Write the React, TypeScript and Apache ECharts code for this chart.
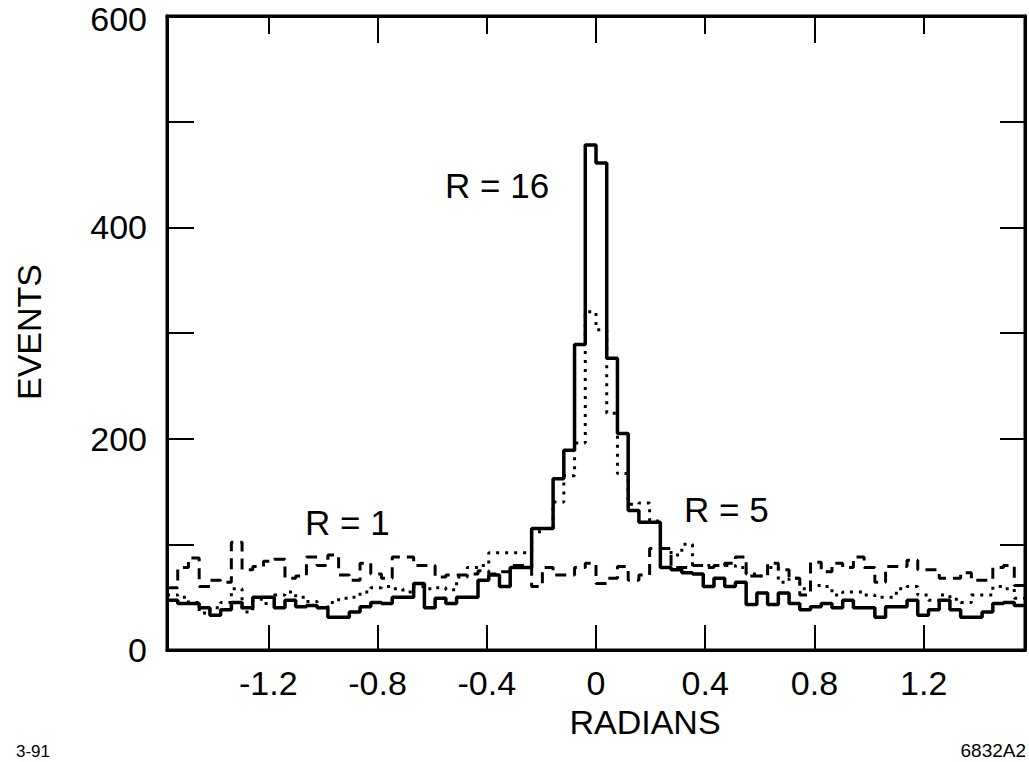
import React, { useEffect, useRef } from 'react';
import * as echarts from 'echarts';

// Histogram: 80 bins over [-pi/2, pi/2]
const X_MIN = -Math.PI / 2;
const X_MAX = Math.PI / 2;

const r16Values = [
  47, 44, 44, 40, 33, 38, 45, 40, 50, 50,
  40, 47, 41, 42, 40, 31, 31, 36, 41, 45,
  44, 50, 50, 63, 40, 49, 44, 50, 50, 66,
  71, 60, 78, 78, 115, 115, 162, 189, 289, 478,
  461, 276, 205, 132, 121, 121, 78, 76, 73, 72,
  60, 68, 60, 64, 43, 54, 43, 54, 44, 38,
  41, 44, 40, 47, 40, 40, 31, 41, 41, 47,
  33, 38, 47, 38, 31, 31, 36, 44, 45, 42,
];

const r5Values = [
  52, 50, 45, 35, 40, 45, 58, 36, 48, 44,
  52, 55, 50, 46, 40, 45, 49, 50, 55, 59,
  60, 58, 55, 60, 58, 59, 57, 69, 78, 80,
  92, 92, 92, 92, 112, 115, 140, 165, 196, 320,
  303, 224, 167, 138, 139, 122, 96, 90, 100, 80,
  80, 80, 80, 78, 72, 70, 78, 64, 68, 58,
  61, 60, 52, 55, 55, 52, 50, 50, 58, 60,
  52, 47, 52, 48, 45, 52, 52, 60, 58, 49,
];

const r1Values = [
  59, 78, 87, 60, 66, 64, 102, 76, 79, 84,
  86, 68, 70, 88, 80, 90, 71, 66, 82, 72,
  68, 88, 88, 80, 80, 69, 71, 71, 72, 75,
  72, 74, 80, 80, 60, 78, 71, 71, 78, 82,
  63, 68, 79, 66, 71, 96, 96, 78, 78, 80,
  78, 80, 82, 88, 70, 70, 82, 76, 68, 52,
  83, 74, 82, 78, 88, 78, 64, 79, 79, 85,
  76, 76, 68, 68, 73, 66, 66, 78, 80, 61,
];

const xTickValues = [-1.2, -0.8, -0.4, 0, 0.4, 0.8, 1.2];
const xTopLongTicks = [-0.8, 0, 0.8];
const xTopShortTicks = [-1.2, -0.4, 0.4, 1.2];
const yLabelValues = [0, 200, 400, 600];
const yTickValues = [100, 200, 300, 400, 500];

const FONT = 'Liberation Sans, Arial, Helvetica, sans-serif';

function toSteps(values: number[]): number[][] {
  const w = (X_MAX - X_MIN) / values.length;
  const pts = values.map((v, i) => [X_MIN + i * w, v]);
  pts.push([X_MAX, values[values.length - 1]]);
  return pts;
}

export default function App() {
  const ref = useRef<HTMLDivElement>(null);

  useEffect(() => {
    if (!ref.current) return;
    const chart = echarts.init(ref.current, null, { renderer: 'svg' });
    const baseX = {
      type: 'value',
      min: X_MIN,
      max: X_MAX,
      splitLine: { show: false },
    };
    const option: any = {
      animation: false,
      backgroundColor: '#ffffff',
      grid: {
        left: 167,
        right: 4,
        top: 16,
        bottom: 112,
        outerBoundsMode: 'none',
        containLabel: false,
        show: true,
        borderColor: '#000',
        borderWidth: 3,
        backgroundColor: 'transparent',
      },
      xAxis: [
        {
          ...baseX,
          position: 'bottom',
          axisLine: { show: true, onZero: false, lineStyle: { color: '#000', width: 3 } },
          axisTick: {
            show: true,
            inside: true,
            length: 25,
            customValues: xTickValues,
            lineStyle: { color: '#000', width: 2 },
          },
          axisLabel: {
            show: true,
            customValues: xTickValues,
            margin: 16,
            color: '#000',
            fontFamily: FONT,
            fontSize: 34,
            formatter: (v: number) => (Math.abs(v) < 1e-9 ? '0' : v.toFixed(1)),
          },
        },
        {
          ...baseX,
          position: 'top',
          axisLine: { show: true, onZero: false, lineStyle: { color: '#000', width: 3 } },
          axisTick: {
            show: true,
            inside: true,
            length: 27,
            customValues: xTopLongTicks,
            lineStyle: { color: '#000', width: 2 },
          },
          axisLabel: { show: false },
        },
        {
          ...baseX,
          position: 'top',
          axisLine: { show: false, onZero: false },
          axisTick: {
            show: true,
            inside: true,
            length: 18,
            customValues: xTopShortTicks,
            lineStyle: { color: '#000', width: 2 },
          },
          axisLabel: { show: false },
        },
      ],
      yAxis: [
        {
          type: 'value',
          min: 0,
          max: 600,
          position: 'left',
          splitLine: { show: false },
          axisLine: { show: true, onZero: false, lineStyle: { color: '#000', width: 3 } },
          axisTick: {
            show: true,
            inside: true,
            length: 27,
            customValues: yTickValues,
            lineStyle: { color: '#000', width: 2 },
          },
          axisLabel: {
            show: true,
            customValues: yLabelValues,
            margin: 20,
            color: '#000',
            fontFamily: FONT,
            fontSize: 34,
            lineHeight: 28,
            formatter: (v: number) => (v === 600 ? '{top|600}' : String(v)),
            rich: {
              top: {
                fontFamily: FONT,
                fontSize: 34,
                lineHeight: 28,
                color: '#000',
                padding: [6, 0, 0, 0],
              },
            },
          },
        },
        {
          type: 'value',
          min: 0,
          max: 600,
          position: 'right',
          splitLine: { show: false },
          axisLine: { show: true, onZero: false, lineStyle: { color: '#000', width: 3 } },
          axisTick: {
            show: true,
            inside: true,
            length: 25,
            customValues: yTickValues,
            lineStyle: { color: '#000', width: 2 },
          },
          axisLabel: { show: false },
        },
      ],
      series: [
        {
          name: 'R = 1',
          type: 'line',
          step: 'end',
          symbol: 'none',
          data: toSteps(r1Values),
          lineStyle: { color: '#000', width: 3, type: [11, 7] },
          z: 2,
        },
        {
          name: 'R = 5',
          type: 'line',
          step: 'end',
          symbol: 'none',
          data: toSteps(r5Values),
          lineStyle: { color: '#000', width: 3, type: [3, 6] },
          z: 3,
        },
        {
          name: 'R = 16',
          type: 'line',
          step: 'end',
          symbol: 'none',
          data: toSteps(r16Values),
          lineStyle: { color: '#000', width: 3.5, type: 'solid' },
          z: 4,
        },
      ],
      graphic: [
        {
          type: 'text',
          left: 445,
          top: 168,
          style: { text: 'R = 16', fill: '#000', font: `35px ${FONT}` },
        },
        {
          type: 'text',
          left: 305,
          top: 505,
          style: { text: 'R = 1', fill: '#000', font: `35px ${FONT}` },
        },
        {
          type: 'text',
          left: 684,
          top: 492,
          style: { text: 'R = 5', fill: '#000', font: `35px ${FONT}` },
        },
        {
          type: 'text',
          x: 29,
          y: 332,
          rotation: Math.PI / 2,
          style: {
            text: 'EVENTS',
            fill: '#000',
            font: `34px ${FONT}`,
            align: 'center',
            verticalAlign: 'middle',
          },
        },
        {
          type: 'text',
          x: 645,
          y: 722,
          style: {
            text: 'RADIANS',
            fill: '#000',
            font: `34px ${FONT}`,
            align: 'center',
            verticalAlign: 'middle',
          },
        },
        {
          type: 'text',
          left: 16,
          top: 743,
          style: { text: '3-91', fill: '#000', font: `17px ${FONT}` },
        },
        {
          type: 'text',
          right: 3,
          top: 741,
          style: { text: '6832A2', fill: '#000', font: `19px ${FONT}` },
        },
      ],
    };
    chart.setOption(option);
    return () => {
      chart.dispose();
    };
  }, []);

  return (
    <div
      ref={ref}
      style={{ position: 'fixed', left: 0, top: 0, width: 1029, height: 762 }}
    />
  );
}
